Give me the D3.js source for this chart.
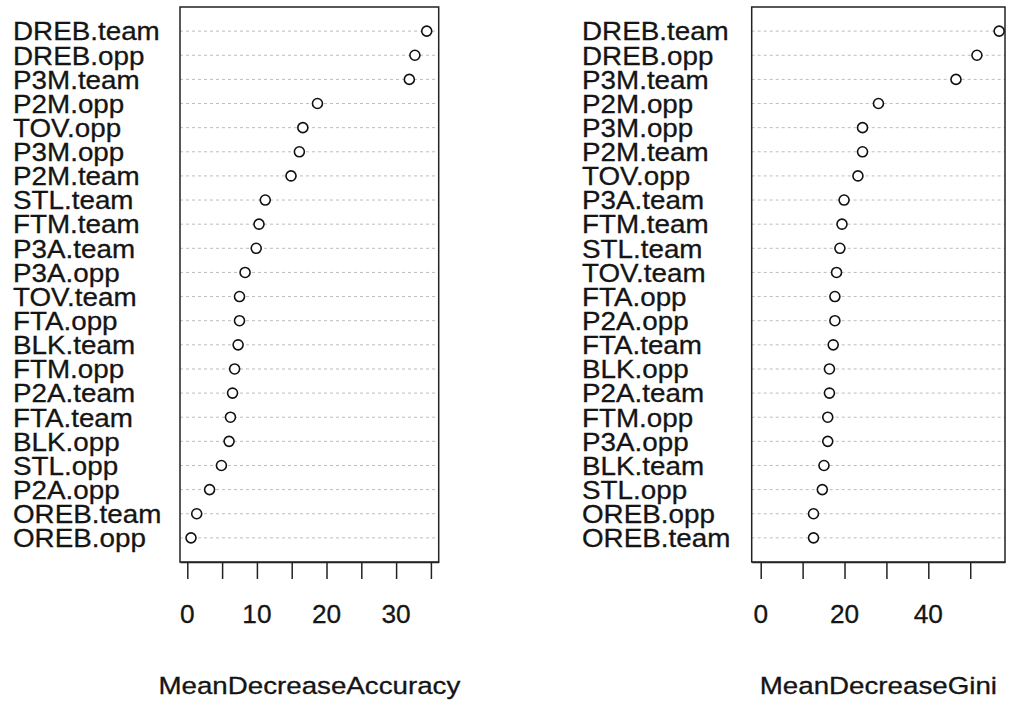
<!DOCTYPE html>
<html>
<head>
<meta charset="utf-8">
<script src="https://cdn.jsdelivr.net/npm/d3@7"></script>
<style>
  body { margin: 0; background: #fff; }
  svg { display: block; }
  text { font-family: "Liberation Sans", Arial, sans-serif; fill: #151515; stroke: #151515; stroke-width: 0.3px; }
</style>
</head>
<body>
<div class="chart"></div>
<script>
'use strict'

// variable names, top to bottom, with their importance
const accLabels = ['DREB.team', 'DREB.opp', 'P3M.team', 'P2M.opp', 'TOV.opp', 'P3M.opp', 'P2M.team',
  'STL.team', 'FTM.team', 'P3A.team', 'P3A.opp', 'TOV.team', 'FTA.opp', 'BLK.team', 'FTM.opp',
  'P2A.team', 'FTA.team', 'BLK.opp', 'STL.opp', 'P2A.opp', 'OREB.team', 'OREB.opp']
const accValues = [34.4, 32.7, 31.9, 18.7, 16.6, 16.1, 14.9, 11.2, 10.3, 9.9, 8.3, 7.5, 7.5, 7.3, 6.8,
  6.5, 6.2, 6.0, 4.9, 3.2, 1.35, 0.53]

const giniLabels = ['DREB.team', 'DREB.opp', 'P3M.team', 'P2M.opp', 'P3M.opp', 'P2M.team', 'TOV.opp',
  'P3A.team', 'FTM.team', 'STL.team', 'TOV.team', 'FTA.opp', 'P2A.opp', 'FTA.team', 'BLK.opp',
  'P2A.team', 'FTM.opp', 'P3A.opp', 'BLK.team', 'STL.opp', 'OREB.opp', 'OREB.team']
const giniValues = [56.9, 51.6, 46.6, 28.1, 24.3, 24.3, 23.2, 19.9, 19.4, 18.9, 18.1, 17.7, 17.7, 17.3,
  16.4, 16.4, 16.0, 16.0, 15.1, 14.7, 12.6, 12.6]

const accTicks = [0, 5, 10, 15, 20, 25, 30, 35]
const accTickLabels = [0, 10, 20, 30]
const giniTicks = [0, 10, 20, 30, 40, 50]
const giniTickLabels = [0, 20, 40]

const width = 1009
const height = 704

const svg = d3.select('.chart').append('svg')
    .attr('width', width)
    .attr('height', height)

// the source picture is a little stretched sideways, so text gets a horizontal scale
function stretchedText(g, x, y, str, size, sx, anchor) {
  return g.append('text')
      .attr('transform', 'translate(' + x + ',' + y + ') scale(' + sx + ',1)')
      .attr('text-anchor', anchor || 'start')
      .style('font-size', size + 'px')
      .text(str)
}

function panel(opts) {
  const g = svg.append('g')
  const x = d3.scaleLinear().domain(opts.domain).range([opts.left, opts.right])
  const n = opts.labels.length
  // row 1 at the bottom, like dotchart
  const y = d3.scaleLinear().domain([0, n + 1]).range([562, 7])
  const rows = opts.labels.map((l, i) => ({ label: l, value: opts.values[i], pos: n - i }))

  g.selectAll('.grid')
      .data(rows)
    .enter().append('line')
      .attr('x1', opts.left).attr('x2', opts.right)
      .attr('y1', d => y(d.pos)).attr('y2', d => y(d.pos))
      .attr('stroke', '#bdbdbd')
      .attr('stroke-width', 1)
      .attr('stroke-dasharray', '3,3')

  g.append('rect')
      .attr('x', opts.left).attr('y', y(n + 1))
      .attr('width', opts.right - opts.left)
      .attr('height', y(0) - y(n + 1))
      .attr('fill', 'none')
      .attr('stroke', '#222')
      .attr('stroke-width', 1.5)

  g.selectAll('.dot')
      .data(rows)
    .enter().append('circle')
      .attr('cx', d => x(d.value))
      .attr('cy', d => y(d.pos))
      .attr('r', 5)
      .attr('fill', '#fff')
      .attr('stroke', '#111')
      .attr('stroke-width', 1.6)

  rows.forEach(d => {
    stretchedText(g, opts.labelX, y(d.pos) + 9.3, d.label, 26, 1.07)
  })

  // x axis, ticks hanging below the box
  const axis = d3.axisBottom(x)
      .tickValues(opts.ticks)
      .tickFormat('')
      .tickSize(17)
      .tickSizeOuter(0)
  const ax = g.append('g')
      .attr('transform', 'translate(0,' + y(0) + ')')
      .call(axis)
  ax.select('.domain').attr('stroke', '#222').attr('stroke-width', 1.5)
  ax.selectAll('.tick line').attr('stroke', '#222').attr('stroke-width', 1.5)

  opts.tickLabels.forEach(t => {
    stretchedText(g, x(t), 623, String(t), 25, 1.05, 'middle')
  })

  stretchedText(g, (opts.left + opts.right) / 2, 694, opts.title, 23.5, 1.18, 'middle')
}

panel({
  labels: accLabels,
  values: accValues,
  domain: [-1.05, 36.12],
  left: 180,
  right: 438.7,
  labelX: 13,
  ticks: accTicks,
  tickLabels: accTickLabels,
  title: 'MeanDecreaseAccuracy'
})

panel({
  labels: giniLabels,
  values: giniValues,
  domain: [-2.15, 58.3],
  left: 751.7,
  right: 1005,
  labelX: 582,
  ticks: giniTicks,
  tickLabels: giniTickLabels,
  title: 'MeanDecreaseGini'
})
</script>
</body>
</html>
